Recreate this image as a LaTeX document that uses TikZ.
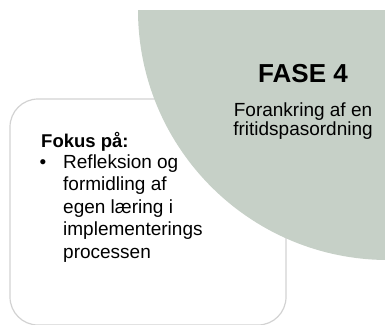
\documentclass[tikz,border=0pt]{standalone}
\usepackage{fontspec}
\setmainfont{Liberation Sans}
\definecolor{fasegreen}{RGB}{198,208,199}
\definecolor{boxgray}{RGB}{210,210,210}
\tikzset{
    bodytext/.style={inner sep=0pt, font=\fontsize{19}{22.5}\selectfont},
    headtext/.style={inner sep=0pt, font=\bfseries\fontsize{18.5}{22.5}\selectfont},
    phasetext/.style={inner sep=0pt, font=\bfseries\fontsize{26}{30}\selectfont}
}

\begin{document}
\begin{tikzpicture}[x=1pt,y=-1pt]

\useasboundingbox (0,0) rectangle (385,324);

% Focus box
\draw[boxgray, line width=1.2pt, rounded corners=28pt] (10,99) rectangle (286,325);

% Phase quarter disc
\begin{scope}
  \clip (0,10) rectangle (385,324);
  \fill[fasegreen] (388,10) circle (250pt);
\end{scope}

% Phase title
\node[phasetext, anchor=base] (fase) at (303,82) {FASE 4};
\node[bodytext, anchor=base] (anchor1) at (303,116.5) {Forankring af en};
\node[bodytext, anchor=base] (anchor2) at (303,135) {fritidspasordning};

% Focus list
\node[headtext, anchor=base west] (focus) at (41,147) {Fokus på:};
\node[bodytext, anchor=base] (bullet) at (43,168) {•};
\foreach \txt [count=\i] in {Refleksion og, formidling af, egen læring i, implementerings, processen}
  \node[bodytext, anchor=base west] (item\i) at (63,{168+22.5*(\i-1)}) {\txt};

\end{tikzpicture}
\end{document}
